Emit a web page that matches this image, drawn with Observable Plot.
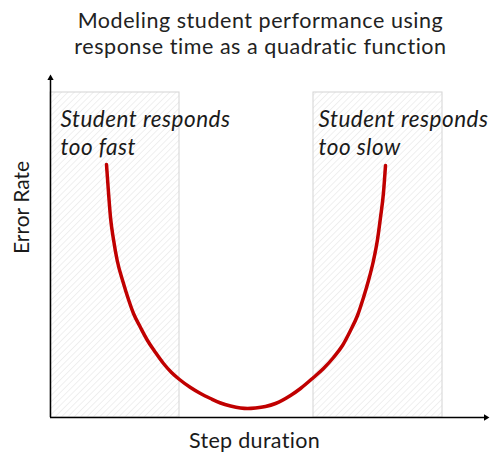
<!DOCTYPE html>
<html>
<head>
<meta charset="utf-8">
<script src="https://cdn.jsdelivr.net/npm/d3@7"></script>
<script src="https://cdn.jsdelivr.net/npm/@observablehq/plot@0.6"></script>
<style>
  body { margin: 0; background: #fff; }
  #title { box-sizing: border-box; width: 491px; height: 64px; padding: 7px 0 0 30px; text-align: center;
    font-family: Lato, "Open Sans", sans-serif; font-size: 21.5px; line-height: 26px; letter-spacing: 0.55px; color: #222; white-space: nowrap; }
  #chart .note text, #chart .note tspan { letter-spacing: 0.5px; }
  #chart .axlabel text { letter-spacing: 0.3px; }
</style>
</head>
<body>
<div id="title">Modeling student performance using<br>response time as a quadratic function</div>
<div id="chart"></div>
<script>
// Step duration (x) and error rate (y) in abstract units
const curveX = [56, 58, 60, 63, 66.7, 73, 78, 83, 90, 97, 105, 113, 121, 129, 140, 150, 160, 170, 180, 190, 197, 205, 215, 225, 240, 250, 263, 273, 283, 292, 300, 307, 313, 318, 323, 327, 330, 333, 335];
const curveY = [253, 225, 200, 178, 157, 134, 118, 104, 90, 77, 65, 54, 45, 38, 30, 24, 19, 14.5, 11.5, 9.5, 9, 9.5, 11, 14, 22, 29, 40, 49, 60, 72, 87, 102, 120, 137, 157, 178, 200, 225, 252];
const zoneLabels = ["Student responds\ntoo fast", "Student responds\ntoo slow"];
const zoneX1 = [0, 263];
const zoneX2 = [129, 392];
const zoneTop = 325;
const labelX = [10, 268];
const labelY = [310, 310];
const xMax = 440, yMax = 344;
const arrowX = [0, 435.3];
const arrowY = [339.3, 0];
const arrowRotate = [0, 90];

const curve = curveX.map((x, i) => ({x, y: curveY[i]}));
const zones = zoneX1.map((x1, i) => ({x1, x2: zoneX2[i], y1: 0, y2: zoneTop}));
const notes = zoneLabels.map((t, i) => ({t, x: labelX[i], y: labelY[i]}));
const arrows = arrowX.map((x, i) => ({x, y: arrowY[i], r: arrowRotate[i]}));

const plot = Plot.plot({
  width: 491,
  height: 390,
  marginLeft: 50,
  marginRight: 1,
  marginTop: 9,
  marginBottom: 37,
  x: {axis: null, domain: [0, xMax]},
  y: {axis: null, domain: [0, yMax]},
  style: {fontFamily: "Lato, Open Sans, sans-serif", background: "#fff"},
  marks: [
    Plot.rect(zones, {x1: "x1", x2: "x2", y1: "y1", y2: "y2", fill: "url(#hatch)", stroke: "#d4d4d4", strokeWidth: 1}),
    Plot.line(curve, {x: "x", y: "y", curve: "monotone-x", stroke: "#c00000", strokeWidth: 3.5}),
    Plot.ruleX([0], {y1: 0, y2: arrowY[0], stroke: "#000", strokeWidth: 1.5}),
    Plot.ruleY([0], {x1: 0, x2: arrowX[1], stroke: "#000", strokeWidth: 1.5}),
    Plot.dot(arrows, {x: "x", y: "y", rotate: "r", symbol: "triangle2", r: 3, fill: "#000", stroke: "none"}),
    Plot.text(notes, {x: "x", y: "y", text: "t", textAnchor: "start", lineAnchor: "top", fontSize: 22.5, fontStyle: "italic", lineHeight: 1.222, fill: "#1a1a1a", className: "note"}),
    Plot.text(["Step duration"], {x: 204, y: -24, textAnchor: "middle", lineAnchor: "middle", fontSize: 21.5, fill: "#1a1a1a", className: "axlabel"}),
    Plot.text(["Error Rate"], {x: -28, y: 210, rotate: -90, textAnchor: "middle", lineAnchor: "middle", fontSize: 21, fill: "#1a1a1a"})
  ]
});

const defs = d3.create("svg:defs");
const pat = defs.append("pattern").attr("id", "hatch").attr("patternUnits", "userSpaceOnUse")
  .attr("width", 4.5).attr("height", 4.5).attr("patternTransform", "rotate(45)");
pat.append("rect").attr("width", 4.5).attr("height", 4.5).attr("fill", "#fff");
pat.append("line").attr("x1", 0).attr("y1", 0).attr("x2", 0).attr("y2", 4.5)
  .attr("stroke", "#e4e4e4").attr("stroke-width", 1.1);
plot.insertBefore(defs.node(), plot.firstChild);

document.getElementById("chart").appendChild(plot);
</script>
</body>
</html>
